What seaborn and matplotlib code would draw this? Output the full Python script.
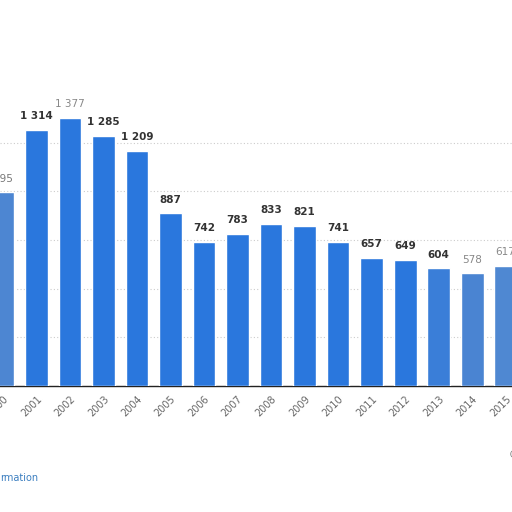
import pandas as pd
import seaborn as sns
import matplotlib.pyplot as plt

# values
years = ["2000", "2001", "2002", "2003", "2004", "2005", "2006", "2007",
         "2008", "2009", "2010", "2011", "2012", "2013", "2014", "2015"]
values = [995, 1314, 1377, 1285, 1209, 887, 742, 783,
          833, 821, 741, 657, 649, 604, 578, 617]
labels = ["995", "1 314", "1 377", "1 285", "1 209", "887", "742", "783",
          "833", "821", "741", "657", "649", "604", "578", "617"]

df = pd.DataFrame({"Year": years, "Value": values})

# bars at the edges look washed out in the reference
bar_colors = ["#4d86d2"] + ["#2a77dd"] * 12 + ["#3a7ed8", "#4a84d2", "#4f88d2"]
label_colors = ["#777777", "#333333", "#888888"] + ["#333333"] * 12 + ["#888888"]
label_colors[14] = "#888888"

sns.set_style("white")
fig = plt.figure(figsize=(5.12, 5.12), dpi=100)
ax = fig.add_axes([0, 126 / 512, 1, 386 / 512])

sns.barplot(data=df, x="Year", y="Value", hue="Year", palette=bar_colors,
            width=0.68, saturation=1, legend=False, ax=ax, zorder=3)

ax.set_xlim(-0.09, 15.19)
ax.set_ylim(0, 1983)
ax.set_yticks([250, 500, 750, 1000, 1250])
ax.yaxis.grid(True, linestyle=(0, (1, 2)), color="#cccccc", linewidth=0.8, zorder=0)
ax.set_yticklabels([])
ax.tick_params(axis="y", length=0)
ax.tick_params(axis="x", length=0, pad=6)
for lbl in ax.get_xticklabels():
    lbl.set_rotation(45)
    lbl.set_ha("right")
    lbl.set_rotation_mode("anchor")
    lbl.set_fontsize(7)
    lbl.set_color("#666666")

for s in ["top", "right", "left"]:
    ax.spines[s].set_visible(False)
ax.spines["bottom"].set_color("#222222")
ax.spines["bottom"].set_linewidth(1)
ax.set_xlabel("")
ax.set_ylabel("")

for i, (v, t) in enumerate(zip(values, labels)):
    bold = label_colors[i] == "#333333"
    ax.text(i, v + 45, t, ha="center", va="bottom", fontsize=7.5,
            fontweight="bold" if bold else "normal", color=label_colors[i])

fig.text(0.0, 1 - 478 / 512, "rmation", fontsize=7, color="#3c7fc0",
         ha="left", va="center")
fig.text(0.993, 1 - 455 / 512, "©", fontsize=7, color="#666666",
         ha="left", va="center")

fig.savefig("out.png", dpi=100)
